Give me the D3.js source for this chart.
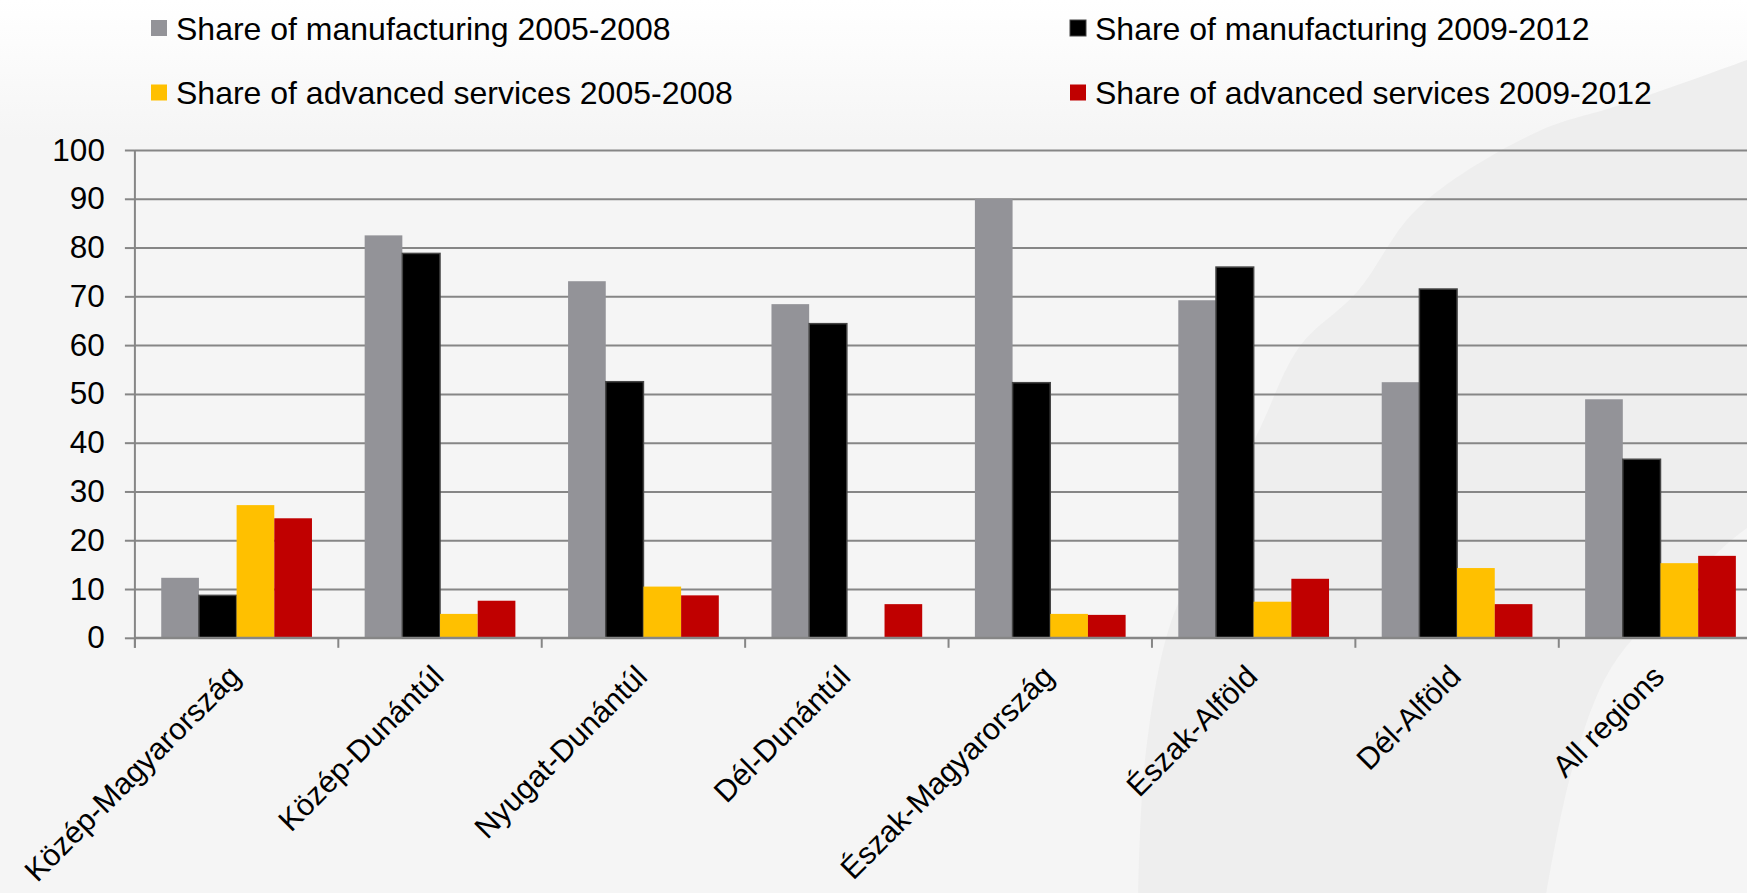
<!DOCTYPE html>
<html>
<head>
<meta charset="utf-8">
<script src="https://cdn.jsdelivr.net/npm/d3@7"></script>
<style>
  html, body { margin: 0; padding: 0; background: #F5F5F5; overflow: hidden; }
  svg { display: block; }
  text { font-family: "Liberation Sans", Arial, sans-serif; fill: #000; }
</style>
</head>
<body>
<svg id="chart" width="1747" height="893"></svg>
<script>
// ---- data ----
const categories = ["Közép-Magyarország", "Közép-Dunántúl", "Nyugat-Dunántúl", "Dél-Dunántúl",
                    "Észak-Magyarország", "Észak-Alföld", "Dél-Alföld", "All regions"];
const seriesNames = ["Share of manufacturing 2005-2008", "Share of manufacturing 2009-2012",
                     "Share of advanced services 2005-2008", "Share of advanced services 2009-2012"];
const manufacturing0508 = [12.3, 82.5, 73.1, 68.4, 90.0, 69.2, 52.4, 48.9];
const manufacturing0912 = [8.7, 78.8, 52.5, 64.4, 52.3, 76.0, 71.5, 36.6];
const services0508      = [27.2, 4.9, 10.5, null, 4.9, 7.4, 14.3, 15.3];
const services0912      = [24.5, 7.6, 8.7, 6.9, 4.7, 12.1, 6.9, 16.8];
const yTicks = [0, 10, 20, 30, 40, 50, 60, 70, 80, 90, 100];

const seriesValues = [manufacturing0508, manufacturing0912, services0508, services0912];
const colors = ["#939398", "#000000", "#FFC000", "#C00000"];

// ---- layout ----
const W = 1747, H = 893;
const svg = d3.select("#chart");

// background
const defs = svg.append("defs");
const grad = defs.append("linearGradient").attr("id", "topfade")
  .attr("x1", 0).attr("y1", 0).attr("x2", 0).attr("y2", 1);
grad.append("stop").attr("offset", "0%").attr("stop-color", "#FFFFFF");
grad.append("stop").attr("offset", "100%").attr("stop-color", "#F5F5F5");
svg.append("rect").attr("width", W).attr("height", H).attr("fill", "#F5F5F5");
svg.append("rect").attr("width", W).attr("height", 140).attr("fill", "url(#topfade)");

// soft swoosh on the right side of the slide background
const swooshLeft = [[1800, 40], [1747, 60], [1620, 105], [1537, 132], [1418, 208], [1357, 292],
  [1300, 346], [1262, 424], [1210, 540], [1170, 625], [1145, 760], [1138, 900]];
const swooshRight = [[1545, 900], [1572, 770], [1611, 668], [1680, 590], [1747, 528], [1800, 500]];
const curve = d3.line().curve(d3.curveCatmullRom.alpha(0.5));
svg.append("path")
  .attr("d", curve(swooshLeft) + curve(swooshRight).replace(/^M/, "L") + "Z")
  .attr("fill", "#EEEEEE");

const x0 = 134.9, x1 = 1762.2;
const yBottom = 637.8, yTop = 150;

const x = d3.scaleBand().domain(categories).range([x0, x1])
  .paddingInner(0.259).paddingOuter(0.1295);
const xs = d3.scaleBand().domain(d3.range(seriesNames.length)).range([0, x.bandwidth()]);
const y = d3.scaleLinear().domain([0, 100]).range([yBottom, yTop]);

// gridlines
svg.append("g")
  .attr("transform", `translate(${x0},0)`)
  .call(d3.axisLeft(y).tickValues(yTicks).tickSize(-(x1 - x0)).tickFormat(""))
  .call(g => g.select(".domain").remove())
  .call(g => g.selectAll("line").attr("stroke", "#868686").attr("stroke-width", 2));

// y axis with ticks and labels
svg.append("g")
  .attr("transform", `translate(${x0},0)`)
  .call(d3.axisLeft(y).tickValues(yTicks).tickSize(10).tickPadding(20))
  .call(g => g.select(".domain").attr("d", `M0,${yTop}V${yBottom + 10}`)
    .attr("stroke", "#868686").attr("stroke-width", 2))
  .call(g => g.selectAll(".tick line").attr("stroke", "#868686").attr("stroke-width", 2))
  .call(g => g.selectAll(".tick text")
    .attr("font-size", "31.5px").attr("font-family", "'Liberation Sans', Arial, sans-serif")
    .attr("fill", "#000"));

// bars
const groups = svg.append("g").selectAll("g")
  .data(categories)
  .join("g")
  .attr("transform", d => `translate(${x(d)},0)`);

groups.selectAll("rect")
  .data((d, i) => seriesValues.map((vals, s) => ({ s, v: vals[i] })).filter(e => e.v != null))
  .join("rect")
  .attr("x", d => xs(d.s))
  .attr("width", xs.bandwidth())
  .attr("y", d => y(d.v))
  .attr("height", d => y(0) - y(d.v))
  .attr("fill", d => colors[d.s])
  .attr("stroke", d => d.s === 1 ? "#454545" : "none")
  .attr("stroke-width", 1.5);

// x axis: baseline, boundary ticks, rotated labels
const xAxis = svg.append("g")
  .attr("transform", `translate(0,${yBottom})`)
  .call(d3.axisBottom(x).tickSize(0).tickPadding(0));
xAxis.select(".domain").attr("d", `M${x0},0H${W}`).attr("stroke", "#868686").attr("stroke-width", 2);
xAxis.selectAll(".tick text")
  .attr("font-size", "30.5px")
  .attr("font-family", "'Liberation Sans', Arial, sans-serif")
  .attr("fill", "#000")
  .attr("text-anchor", "end")
  .attr("y", 0)
  .attr("dy", "0.35em")
  .attr("transform", "translate(-2,33) rotate(-45)");

const step = x.step();
svg.append("g").selectAll("line")
  .data(d3.range(categories.length + 1))
  .join("line")
  .attr("x1", i => x0 + i * step).attr("x2", i => x0 + i * step)
  .attr("y1", yBottom).attr("y2", yBottom + 10)
  .attr("stroke", "#868686").attr("stroke-width", 2);

// legend
const legendPos = [[151, 20], [1070, 20], [151, 84.5], [1070, 84.5]];
const legend = svg.append("g").selectAll("g")
  .data(seriesNames)
  .join("g")
  .attr("transform", (d, i) => `translate(${legendPos[i][0]},${legendPos[i][1]})`);
legend.append("rect")
  .attr("width", 16).attr("height", 16)
  .attr("fill", (d, i) => colors[i])
  .attr("stroke", (d, i) => i === 1 ? "#454545" : "none");
legend.append("text")
  .attr("x", 25).attr("y", 19.5)
  .attr("font-size", "32px")
  .text(d => d);
</script>
</body>
</html>
